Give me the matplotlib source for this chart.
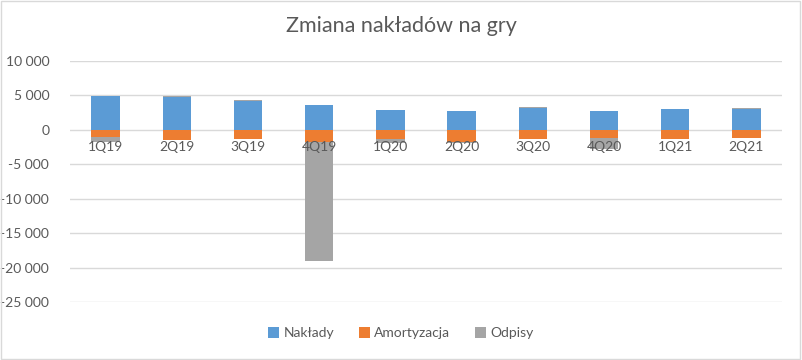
import matplotlib.pyplot as plt
import matplotlib.ticker as mticker
import matplotlib.transforms as mtrans
import numpy as np

plt.rcParams['font.family'] = ['Lato', 'DejaVu Sans']

# dane
kwartaly = ['1Q19', '2Q19', '3Q19', '4Q19', '1Q20', '2Q20', '3Q20', '4Q20', '1Q21', '2Q21']
naklady = [4850, 4740, 4200, 3570, 2840, 2700, 3130, 2700, 2990, 3040]
amortyzacja = [-1050, -1490, -1340, -1790, -1385, -1800, -1340, -1240, -1340, -1190]
odpisy = [-730, 120, 130, -17200, -580, -150, 140, -1600, 0, 110]

c_blue = '#5B9BD5'
c_orange = '#ED7D31'
c_gray = '#A5A5A5'
c_text = '#595959'

fig = plt.figure(figsize=(8.02, 3.6), dpi=100)
ax = fig.add_axes([70/802, 1-302/360, 712/802, 241/360])

x = np.arange(len(kwartaly))
w = 0.4
nak = np.array(naklady)
am = np.array(amortyzacja)
od = np.array(odpisy)
od_bottom = np.where(od >= 0, nak, am)

ax.bar(x, nak, w, color=c_blue, label='Nakłady', zorder=2)
ax.bar(x, am, w, color=c_orange, label='Amortyzacja', zorder=2)
ax.bar(x, od, w, bottom=od_bottom, color=c_gray, label='Odpisy', zorder=2)

ax.set_ylim(-25000, 10000)
ax.set_xlim(-0.5, len(kwartaly) - 0.5)
ax.yaxis.set_major_locator(mticker.MultipleLocator(5000))
ax.yaxis.set_major_formatter(mticker.FuncFormatter(
    lambda v, p: f'{int(v):,}'.replace(',', ' ')))
ax.grid(axis='y', color='#D9D9D9', linewidth=1, zorder=0)
ax.set_axisbelow(True)

for s in ax.spines.values():
    s.set_visible(False)
ax.tick_params(axis='both', length=0, colors=c_text, labelsize=10)
ax.tick_params(axis='y', pad=15)
ax.set_xticks([])

# etykiety kwartałów tuż pod osią zero, nad słupkami
off = mtrans.offset_copy(ax.transData, fig=fig, x=0, y=-8, units='points')
for xi, k in zip(x, kwartaly):
    ax.text(xi, 0, k, transform=off, ha='center', va='top', fontsize=10,
            color=c_text, zorder=5)

fig.suptitle('Zmiana nakładów na gry', y=0.955, fontsize=15.5, color=c_text)

fig.legend(loc='center', bbox_to_anchor=(0.5, 1-333/360), ncol=3, frameon=False,
           fontsize=10, labelcolor=c_text, handlelength=0.8, handleheight=0.8,
           handletextpad=0.3, columnspacing=1.8)

fig.patches.append(plt.Rectangle((0.001, 0.002), 0.997, 0.995, transform=fig.transFigure,
                                 fill=False, edgecolor='#D9D9D9', linewidth=1))

fig.savefig('out.png', dpi=100)
